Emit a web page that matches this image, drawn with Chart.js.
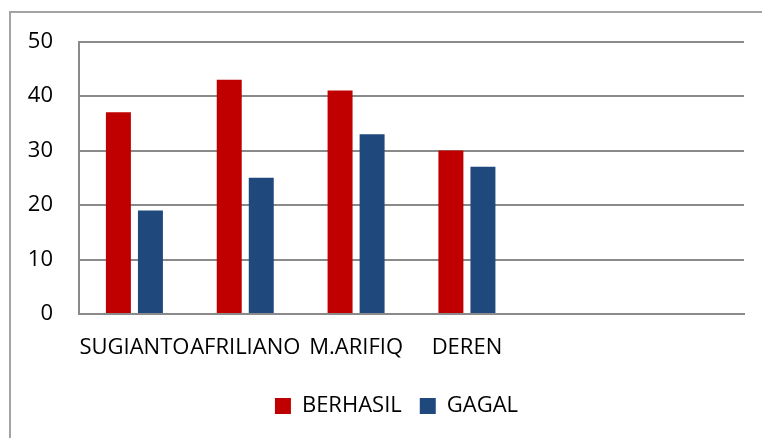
<!DOCTYPE html>
<html>
<head>
<meta charset="utf-8">
<script src="https://cdn.jsdelivr.net/npm/chart.js@4"></script>
<style>
  html, body { margin: 0; padding: 0; background: #fff; overflow: hidden; }
  #frame { position: absolute; left: 9px; top: 11px; width: 820px; height: 480px; border: 2px solid #a3a3a3; box-sizing: border-box; }
  #wrap { position: absolute; left: 0; top: 0; width: 762px; height: 438px; overflow: hidden; }
</style>
</head>
<body>
<div id="frame"></div>
<div id="wrap"><canvas id="c" width="776" height="438"></canvas></div>
<script>
const categories = ["SUGIANTO", "AFRILIANO", "M.ARIFIQ", "DEREN", "", ""];
const berhasil = [37, 43, 41, 30, null, null];
const gagal = [19, 25, 33, 27, null, null];
const seriesNames = ["BERHASIL", "GAGAL"];
const yTicks = [0, 10, 20, 30, 40, 50];

const FONT = { family: "'Open Sans', sans-serif", size: 22 };
const GRID = '#8a8a8a';

new Chart(document.getElementById('c'), {
  type: 'bar',
  data: {
    labels: categories,
    datasets: [
      { label: seriesNames[0], data: berhasil, backgroundColor: '#C00000', categoryPercentage: 0.578, barPercentage: 0.78 },
      { label: seriesNames[1], data: gagal, backgroundColor: '#1F497D', categoryPercentage: 0.578, barPercentage: 0.78 }
    ]
  },
  options: {
    responsive: false,
    animation: false,
    devicePixelRatio: 1,
    layout: { padding: { left: 17, right: 0, top: 41.5, bottom: 11 } },
    plugins: {
      legend: {
        position: 'bottom',
        labels: { font: FONT, color: '#000', boxWidth: 16, boxHeight: 16, padding: 18 }
      },
      tooltip: { enabled: false }
    },
    scales: {
      x: {
        grid: { display: false, drawTicks: false },
        border: { display: true, color: GRID, width: 2 },
        ticks: { font: FONT, color: '#000', autoSkip: false, maxRotation: 0, minRotation: 0, padding: 21 },
        afterFit: (s) => { s.height = 63; }
      },
      y: {
        min: 0, max: 50,
        afterBuildTicks: (s) => { s.ticks = yTicks.map(v => ({ value: v })); },
        grid: { color: GRID, lineWidth: 2, drawTicks: false },
        border: { display: true, color: GRID, width: 2 },
        ticks: { font: FONT, color: '#000', padding: 26 },
        afterFit: (s) => { s.width = 62; }
      },
      yRight: {
        type: 'linear',
        position: 'right',
        min: 0, max: 50,
        grid: { display: false, drawTicks: false },
        border: { display: false },
        ticks: { display: false },
        afterFit: (s) => { s.width = 32; }
      }
    }
  }
});
</script>
</body>
</html>
